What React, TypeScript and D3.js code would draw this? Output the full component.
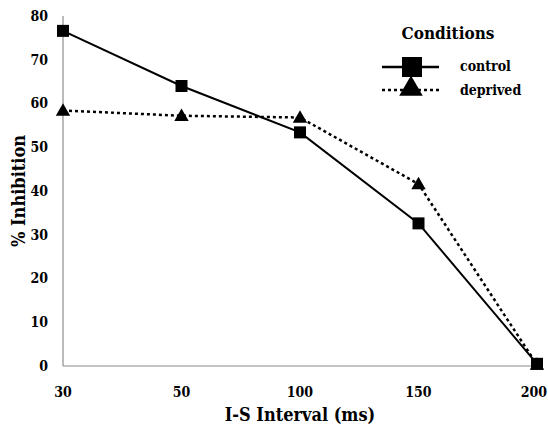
import { useRef, useEffect } from 'react';
import * as d3 from 'd3';

const intervals = ['30', '50', '100', '150', '200'];
const control = [76.6, 64, 53.4, 32.6, 0.5];
const deprived = [58.4, 57.2, 56.8, 41.6, 0.3];
const yTicks = [0, 10, 20, 30, 40, 50, 60, 70, 80];

export default function App() {
  const svgRef = useRef<SVGSVGElement>(null);

  const width = 548,
    height = 425,
    marginTop = 16,
    marginRight = 11,
    marginBottom = 59,
    marginLeft = 63;

  const x = d3
    .scalePoint()
    .domain(intervals)
    .range([marginLeft, width - marginRight]);

  const y = d3
    .scaleLinear()
    .domain([0, 80])
    .range([height - marginBottom, marginTop]);

  useEffect(() => {
    const svg = d3.select(svgRef.current);
    svg.selectAll('*').remove();
    svg.style('font-family', "'DejaVu Serif Condensed', 'DejaVu Serif', serif");
    svg.style('font-stretch', 'condensed');

    // axes: plain gray lines, no tick marks
    svg.append('line')
      .attr('x1', marginLeft).attr('x2', marginLeft)
      .attr('y1', y(80)).attr('y2', y(0))
      .attr('stroke', '#777').attr('stroke-width', 1);
    svg.append('line')
      .attr('x1', marginLeft).attr('x2', width - marginRight)
      .attr('y1', y(0)).attr('y2', y(0))
      .attr('stroke', '#888').attr('stroke-width', 1);

    svg.append('g')
      .selectAll('text')
      .data(yTicks)
      .join('text')
      .attr('x', marginLeft - 15)
      .attr('y', (d) => y(d))
      .attr('dy', '0.35em')
      .attr('text-anchor', 'end')
      .attr('font-weight', 'bold')
      .attr('font-size', 14)
      .text((d) => d);

    svg.append('g')
      .selectAll('text')
      .data(intervals)
      .join('text')
      .attr('x', (d) => x(d)!)
      .attr('y', y(0) + 26)
      .attr('dy', '0.35em')
      .attr('text-anchor', (d, i) => (i === intervals.length - 1 ? 'end' : 'middle'))
      .attr('dx', (d, i) => (i === intervals.length - 1 ? 10 : 0))
      .attr('font-weight', 'bold')
      .attr('font-size', 14)
      .text((d) => d);

    svg.append('text')
      .attr('transform', `translate(25,${(y(0) + y(80)) / 2}) rotate(-90)`)
      .attr('text-anchor', 'middle')
      .attr('font-weight', 'bold')
      .attr('font-size', 18)
      .text('% Inhibition');

    svg.append('text')
      .attr('x', (marginLeft + width - marginRight) / 2)
      .attr('y', 421)
      .attr('text-anchor', 'middle')
      .attr('font-weight', 'bold')
      .attr('font-size', 18)
      .text('I-S Interval (ms)');

    const line = d3
      .line<number>()
      .x((_, i) => x(intervals[i])!)
      .y((d) => y(d));

    const tri = d3.symbol().type(d3.symbolTriangle);

    svg.append('path')
      .datum(deprived)
      .attr('d', line)
      .attr('fill', 'none')
      .attr('stroke', '#000')
      .attr('stroke-width', 2.5)
      .attr('stroke-dasharray', '3,3');
    svg.append('g')
      .selectAll('path')
      .data(deprived)
      .join('path')
      .attr('transform', (d, i) => `translate(${x(intervals[i])},${y(d) + 1})`)
      .attr('d', tri.size(90)())
      .attr('fill', '#000');

    svg.append('path')
      .datum(control)
      .attr('d', line)
      .attr('fill', 'none')
      .attr('stroke', '#000')
      .attr('stroke-width', 2);
    svg.append('g')
      .selectAll('rect')
      .data(control)
      .join('rect')
      .attr('x', (d, i) => x(intervals[i])! - 6)
      .attr('y', (d) => y(d) - 6)
      .attr('width', 12)
      .attr('height', 12)
      .attr('fill', '#000');

    // legend
    const lg = svg.append('g');
    lg.append('text')
      .attr('x', 448).attr('y', 39)
      .attr('text-anchor', 'middle')
      .attr('font-weight', 'bold')
      .attr('font-size', 17)
      .text('Conditions');
    lg.append('line')
      .attr('x1', 382).attr('x2', 439).attr('y1', 67).attr('y2', 67)
      .attr('stroke', '#000').attr('stroke-width', 2.5);
    lg.append('rect')
      .attr('x', 402).attr('y', 57).attr('width', 20).attr('height', 20)
      .attr('fill', '#000');
    lg.append('line')
      .attr('x1', 382).attr('x2', 439).attr('y1', 90).attr('y2', 90)
      .attr('stroke', '#000').attr('stroke-width', 2.5)
      .attr('stroke-dasharray', '3,3');
    lg.append('path')
      .attr('transform', 'translate(411,89)')
      .attr('d', tri.size(240)())
      .attr('fill', '#000');
    lg.selectAll('text.item')
      .data(['control', 'deprived'])
      .join('text')
      .attr('class', 'item')
      .attr('x', 460)
      .attr('y', (d, i) => 66 + i * 24)
      .attr('dy', '0.35em')
      .attr('font-weight', 'bold')
      .attr('font-size', 14)
      .text((d) => d);
  }, []);

  return (
    <svg
      ref={svgRef}
      width={width}
      height={height}
      style={{ position: 'absolute', left: 0, top: 0, background: '#fff' }}
    />
  );
}
